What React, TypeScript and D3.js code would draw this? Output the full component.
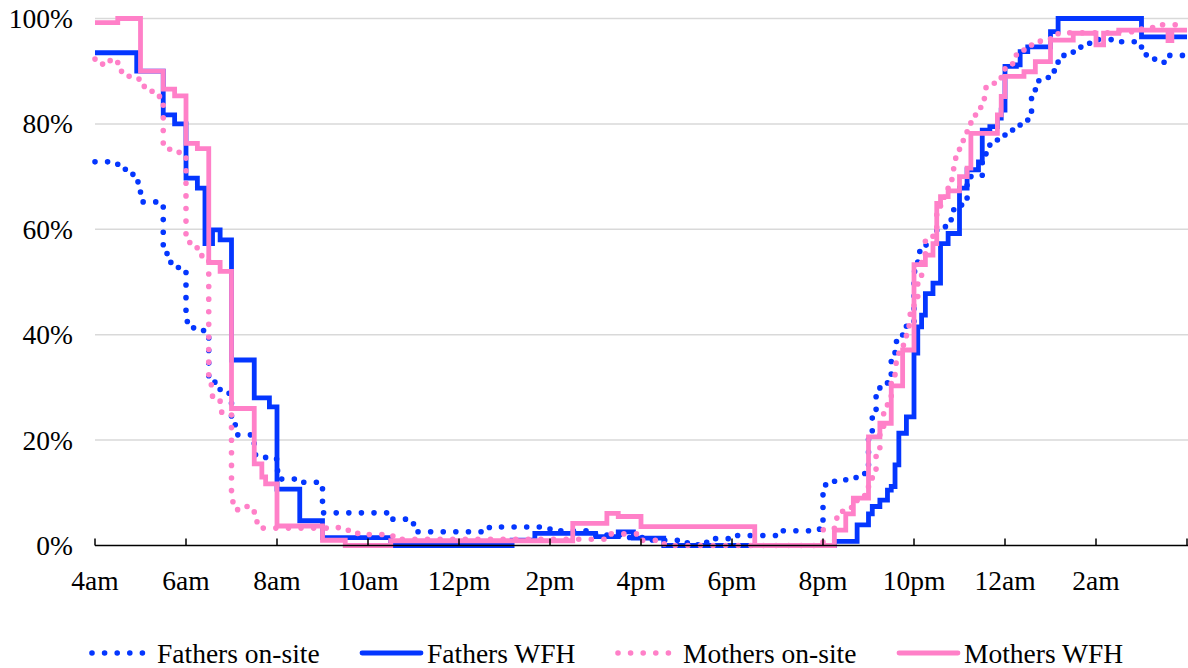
import React from "react";
import * as d3 from "d3";

// ---- data (hour of day, continuing past midnight up to 28 = 4am; value in %) ----
const hourTicks = [4, 6, 8, 10, 12, 14, 16, 18, 20, 22, 24, 26, 28];
const hourLabels = ["4am", "6am", "8am", "10am", "12pm", "2pm", "4pm", "6pm", "8pm", "10pm", "12am", "2am"];
const pctTicks = [0, 20, 40, 60, 80, 100];
const pctLabels = ["0%", "20%", "40%", "60%", "80%", "100%"];

const fathersOnSite: [number, number][] = [
  [4, 72.8], [4.5, 72.3], [4.667, 71.2], [4.833, 69.8], [4.917, 69.0], [5.0, 65.2], [5.5, 55.5],
  [5.583, 54.4], [5.667, 53], [5.833, 52], [6.0, 42.5], [6.167, 41.2], [6.25, 40.8], [6.5, 31],
  [6.667, 29.6], [6.833, 28.9], [7.0, 23], [7.083, 21], [7.5, 17.2], [7.75, 16.4], [8.0, 14.2],
  [8.083, 12.6], [8.5, 12.0], [9.0, 6.2], [10.5, 5.0], [11.0, 4.0], [11.083, 2.6], [12.667, 3.5],
  [14.0, 2.8], [15.0, 2.0], [15.75, 1.5], [16.25, 1.0], [17.0, 0.5], [17.25, 0], [17.333, 0.6],
  [17.5, 1.3], [18.0, 1.9], [19.0, 2.8], [19.833, 3.1], [20.0, 11.5], [20.25, 12.2], [20.5, 12.9],
  [20.75, 13.1], [20.917, 14.5], [21.0, 21.3], [21.083, 25.4], [21.167, 28.9], [21.25, 30.8],
  [21.417, 32.5], [21.5, 36.3], [21.583, 38.7], [21.667, 39.8], [21.75, 41.5], [21.833, 42.5],
  [22.0, 52], [22.083, 55.8], [22.25, 57], [22.5, 60.5], [22.75, 61.8], [22.833, 63.7], [23.0, 64.6],
  [23.167, 69.4], [23.25, 70], [23.5, 72.8], [23.583, 75], [23.667, 76.3], [23.833, 77.5], [24.0, 78.4],
  [24.167, 79.8], [24.333, 80.6], [24.5, 81.7], [24.583, 86], [24.667, 88.2], [24.833, 88.8],
  [25.0, 89.3], [25.083, 91.2], [25.167, 93], [25.5, 94.5], [25.667, 95.3], [26.0, 96], [26.333, 95.6],
  [27.0, 93.1], [27.25, 92.3], [27.417, 91.7], [27.583, 93],
];

const fathersWfh: [number, number][] = [
  [4, 93.5], [4.917, 90], [5.5, 81.7], [5.75, 80], [6.0, 69.7], [6.25, 67.8], [6.417, 57.3],
  [6.583, 59.9], [6.75, 58], [7.0, 35.2], [7.5, 28], [7.833, 26.3], [8.0, 10.7], [8.5, 4.7],
  [9.0, 1.5], [10.5, 0], [13.167, 1.0], [13.667, 2.3], [15.0, 1.7], [15.5, 2.6], [15.833, 1.4],
  [16.5, 0], [20.25, 0.8], [20.75, 3.9], [21.0, 6.0], [21.083, 7.4], [21.25, 8.6], [21.417, 10.5],
  [21.5, 11.2], [21.583, 15.3], [21.667, 21.3], [21.833, 24.4], [22.0, 36.5], [22.083, 41.5],
  [22.167, 43.7], [22.25, 47.8], [22.417, 49.8], [22.583, 57.3], [22.75, 59.2], [23.0, 67.8],
  [23.167, 71.3], [23.417, 72.8], [23.5, 78.8], [23.667, 79.5], [23.833, 81.1], [23.917, 82.6],
  [24.0, 90.9], [24.25, 91.2], [24.333, 93.7], [24.5, 94.6], [25.0, 97.5], [25.167, 100], [27.0, 96.5],
];

const mothersOnSite: [number, number][] = [
  [4, 92.3], [4.167, 91.2], [4.333, 92.3], [4.5, 91], [4.583, 89.3], [4.75, 88.5], [5.0, 88],
  [5.083, 86.2], [5.417, 85.2], [5.5, 75.2], [5.833, 74.6], [6.0, 57.5], [6.167, 56.5], [6.25, 55],
  [6.417, 54.5], [6.5, 30.5], [6.583, 27.5], [6.75, 25.3], [7.0, 8.3], [7.083, 6.8], [7.25, 7.4],
  [7.5, 4.5], [7.583, 3.3], [9.25, 3.4], [9.5, 2.9], [9.667, 2.3], [9.833, 2.1], [10.5, 1.8],
  [10.667, 1.2], [15.25, 2.2], [16.0, 1.0], [16.5, 0.3], [16.667, 0], [20.0, 3.0], [20.25, 5.2],
  [20.417, 6.5], [20.583, 7.2], [20.75, 8.6], [20.917, 9.6], [21.0, 11.8], [21.083, 14.5],
  [21.167, 17.8], [21.25, 22.5], [21.333, 26], [21.417, 28.2], [21.5, 32.4], [21.583, 34.6],
  [21.667, 36.5], [21.75, 38], [21.833, 41.7], [21.917, 44.5], [22.0, 47], [22.083, 51], [22.167, 54],
  [22.25, 57.8], [22.417, 58.9], [22.5, 63], [22.583, 64.6], [22.667, 66.5], [22.75, 68.5],
  [22.833, 71.5], [22.917, 74.1], [23.0, 76.3], [23.083, 78], [23.167, 79.9], [23.25, 81.7],
  [23.417, 83.1], [23.5, 84.8], [23.583, 86.9], [23.75, 87.7], [23.917, 89], [24.0, 90.5],
  [24.167, 93], [24.25, 93.7], [24.417, 94.3], [24.583, 95.7], [25.0, 96.5], [25.167, 97.3],
  [26.5, 97.5], [27.0, 98.3], [27.333, 98.8],
];

const mothersWfh: [number, number][] = [
  [4, 99.2], [4.5, 100], [5.0, 90], [5.5, 86.6], [5.75, 85.3], [6.0, 76.3], [6.25, 75.3],
  [6.5, 53.7], [6.75, 52], [7.0, 26], [7.5, 15.5], [7.667, 13], [7.75, 11.7], [8.0, 3.7],
  [9.0, 1.0], [9.5, 0], [10.5, 0.9], [14.5, 4.2], [15.25, 6.1], [15.5, 5.5], [16.0, 3.6],
  [18.5, 0], [20.25, 2.9], [20.5, 6.0], [20.667, 9.0], [21.0, 20.6], [21.25, 23.2], [21.5, 30.3],
  [21.75, 37.1], [22.0, 53.3], [22.25, 55.1], [22.417, 57.3], [22.5, 64.9], [22.583, 66.2],
  [22.75, 67.3], [23.0, 70], [23.167, 71.6], [23.25, 78.2], [23.833, 81.7], [23.917, 85.2],
  [24.0, 89], [24.417, 89.9], [24.667, 91.8], [25.0, 95.9], [25.5, 97.2], [26.0, 95], [26.167, 97.2],
  [26.5, 97.8], [27.583, 95.8], [27.667, 97.8],
];

const seriesNames = ["Fathers on-site", "Fathers WFH", "Mothers on-site", "Mothers WFH"];
const seriesData = [fathersOnSite, fathersWfh, mothersOnSite, mothersWfh];

const BLUE = "#0436ff";
const PINK = "#ff80c8";
const seriesStyle = [
  { color: BLUE, dotted: true },
  { color: BLUE, dotted: false },
  { color: PINK, dotted: true },
  { color: PINK, dotted: false },
];

const FONT = "'Liberation Serif', 'Times New Roman', Times, serif";
const FS = 27.5;

export default function App() {
  const W = 1188;
  const H = 668;
  const x = d3.scaleLinear().domain([4, 28]).range([95, 1187]);
  const y = d3.scaleLinear().domain([0, 100]).range([545.5, 18.5]);
  const line = d3
    .line<[number, number]>()
    .x((d) => x(d[0]))
    .y((d) => y(d[1]))
    .curve(d3.curveStepAfter);

  const legendItems = [
    { x0: 92, x1: 143, tx: 157 },
    { x0: 362, x1: 421, tx: 427 },
    { x0: 618, x1: 670, tx: 683 },
    { x0: 899, x1: 958, tx: 964 },
  ];
  const legendY = 653;

  const dotStyle = (dotted: boolean) =>
    dotted
      ? { strokeWidth: 5.6, strokeDasharray: "0 12.6", strokeLinecap: "round" as const }
      : { strokeWidth: 4.8, strokeLinecap: "butt" as const };

  return (
    <svg
      width={W}
      height={H}
      style={{ position: "absolute", left: 0, top: 0, background: "#fff" }}
      fontFamily={FONT}
    >
      <rect x={0} y={0} width={W} height={H} fill="#fff" />
      {/* gridlines */}
      {pctTicks.filter((p) => p > 0).map((p) => (
        <line key={p} x1={x(4)} x2={W} y1={y(p)} y2={y(p)} stroke="#d9d9d9" strokeWidth={1.5} />
      ))}
      {/* y labels */}
      {pctTicks.map((p, i) => (
        <text key={p} x={73} y={y(p) + 9.5} fontSize={FS} textAnchor="end" fill="#000">
          {pctLabels[i]}
        </text>
      ))}
      {/* series */}
      {seriesData.map((data, i) => {
        const pts = data.concat([[28, data[data.length - 1][1]]]);
        const st = seriesStyle[i];
        return (
          <path
            key={seriesNames[i]}
            d={line(pts) || ""}
            fill="none"
            stroke={st.color}
            strokeLinejoin="miter"
            {...dotStyle(st.dotted)}
          />
        );
      })}
      {/* x axis */}
      <line x1={x(4)} x2={W} y1={y(0)} y2={y(0)} stroke="#000" strokeWidth={1.5} />
      {hourTicks.map((h) => (
        <line key={h} x1={x(h)} x2={x(h)} y1={y(0)} y2={y(0) - 7} stroke="#000" strokeWidth={1.5} />
      ))}
      {hourLabels.map((lab, i) => (
        <text key={lab} x={x(hourTicks[i])} y={590} fontSize={FS} textAnchor="middle" fill="#000">
          {lab}
        </text>
      ))}
      {/* legend */}
      {legendItems.map((it, i) => {
        const st = seriesStyle[i];
        return (
          <g key={seriesNames[i]}>
            <line
              x1={it.x0}
              x2={it.x1}
              y1={legendY}
              y2={legendY}
              stroke={st.color}
              {...dotStyle(st.dotted)}
              strokeLinecap="round"
            />
            <text x={it.tx} y={legendY + 9.5} fontSize={FS} fill="#000">
              {seriesNames[i]}
            </text>
          </g>
        );
      })}
    </svg>
  );
}
